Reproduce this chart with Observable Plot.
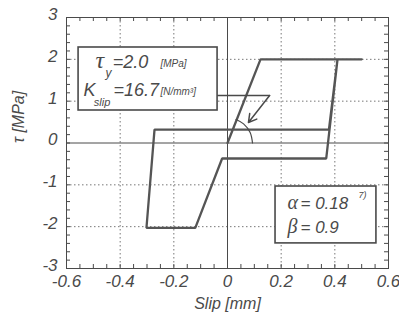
<!DOCTYPE html>
<html>
<head>
<meta charset="utf-8">
<script src="https://cdn.jsdelivr.net/npm/d3@7"></script>
<script src="https://cdn.jsdelivr.net/npm/@observablehq/plot@0.6"></script>
<style>
  html, body { margin: 0; padding: 0; background: #fff; }
  svg { display: block; }
</style>
</head>
<body>
<div id="chart"></div>
<script>
// Hysteresis loop (Slip [mm], tau [MPa])
const slip = [0, 0.123, 0.41, 0.368, -0.02, -0.12, -0.302, -0.272, 0.378, 0.41, 0.50];
const tau  = [0, 2.0, 2.0, -0.37, -0.37, -2.03, -2.03, 0.32, 0.32, 2.0, 2.0];

const xTicks = [-0.6, -0.4, -0.2, 0, 0.2, 0.4, 0.6];
const yTicks = [-3, -2, -1, 0, 1, 2, 3];
const xGrid = [-0.4, -0.2, 0.2, 0.4];
const yGrid = [-2, -1, 1, 2];
const xMinor = [-0.55, -0.5, -0.45, -0.4, -0.35, -0.3, -0.25, -0.2, -0.15, -0.1, -0.05, 0, 0.05, 0.1, 0.15, 0.2, 0.25, 0.3, 0.35, 0.4, 0.45, 0.5, 0.55];
const yMinor = [-2.8, -2.6, -2.4, -2.2, -2, -1.8, -1.6, -1.4, -1.2, -1, -0.8, -0.6, -0.4, -0.2, 0, 0.2, 0.4, 0.6, 0.8, 1, 1.2, 1.4, 1.6, 1.8, 2, 2.2, 2.4, 2.6, 2.8];

const xLabel = "Slip [mm]";
const yLabel = "τ [MPa]";

const data = slip.map((s, i) => ({slip: s, tau: tau[i]}));

const ink = "#4a4a4a";
const sans = "Liberation Sans, Arial, sans-serif";
const serif = "Liberation Serif, Times New Roman, serif";

function label(text, x, y, opts = {}) {
  return Plot.text([text], {
    x: () => x, y: () => y, text: d => d,
    textAnchor: "start", lineAnchor: "bottom",
    fill: ink, fontStyle: "italic", fontFamily: sans, fontSize: 17,
    ...opts
  });
}

const W = 399, H = 315, mL = 66, mR = 11, mT = 17, mB = 47;
const innerW = W - mL - mR, innerH = H - mT - mB;

const chart = Plot.plot({
  width: W, height: H,
  marginLeft: mL, marginRight: mR, marginTop: mT, marginBottom: mB,
  style: {fontFamily: sans, background: "#fff", color: ink},
  x: {domain: [-0.6, 0.6]},
  y: {domain: [-3, 3]},
  marks: [
    Plot.ruleX(xGrid, {stroke: "#777", strokeWidth: 1, strokeDasharray: "1.5,2.5"}),
    Plot.ruleY(yGrid, {stroke: "#777", strokeWidth: 1, strokeDasharray: "1.5,2.5"}),
    Plot.ruleX([0], {stroke: ink, strokeWidth: 1}),
    Plot.ruleY([0], {stroke: ink, strokeWidth: 1}),
    // minor ticks, inside frame
    Plot.tickX(xMinor, {x: d => d, insetTop: innerH - 4, stroke: ink}),
    Plot.tickX(xMinor, {x: d => d, insetBottom: innerH - 4, stroke: ink}),
    Plot.tickY(yMinor, {y: d => d, insetRight: innerW - 4, stroke: ink}),
    Plot.tickY(yMinor, {y: d => d, insetLeft: innerW - 4, stroke: ink}),
    Plot.frame({stroke: ink, strokeWidth: 1}),
    // hysteresis curve
    Plot.line(data, {x: "slip", y: "tau", stroke: "#555", strokeWidth: 2.3, strokeLinejoin: "miter"}),
    // angle arc at origin
    Plot.line([[0.0932, 0], [0.0844, 0.2526], [0.0599, 0.4578], [0.0319, 0.5616]],
      {x: d => d[0], y: d => d[1], curve: "catmull-rom", stroke: ink, strokeWidth: 1.2}),
    // leader + arrow
    Plot.line([[-0.037, 1.136], [0.157, 1.136]], {x: d => d[0], y: d => d[1], stroke: ink, strokeWidth: 1.3}),
    Plot.arrow([0], {x1: () => 0.157, y1: () => 1.136, x2: () => 0.078, y2: () => 0.49,
      stroke: ink, strokeWidth: 1.5, headLength: 9}),
    // boxes
    Plot.rect([0], {x1: () => -0.555, x2: () => -0.037, y1: () => 2.283, y2: () => 0.777,
      fill: "#fff", stroke: ink, strokeWidth: 1.6}),
    Plot.rect([0], {x1: () => 0.179, x2: () => 0.555, y1: () => -1.04, y2: () => -2.40,
      fill: "#fff", stroke: ink, strokeWidth: 1.6}),
    // box 1 text
    label("τ", -0.492, 1.781, {fontFamily: serif, fontSize: 24}),
    label("y", -0.455, 1.566, {fontSize: 12}),
    label("=2.0", -0.428, 1.781, {fontSize: 18}),
    label("[MPa]", -0.250, 1.805, {fontSize: 10}),
    label("K", -0.537, 1.112, {fontSize: 18}),
    label("slip", -0.498, 0.873, {fontSize: 11}),
    label("=16.7", -0.425, 1.112, {fontSize: 18}),
    label("[N/mm³]", -0.250, 1.136, {fontSize: 10}),
    // box 2 text
    label("α", 0.224, -1.566, {fontFamily: serif, fontSize: 20}),
    label("= 0.18", 0.272, -1.566, {fontSize: 17}),
    label("7)", 0.488, -1.303, {fontSize: 9}),
    label("β", 0.224, -2.163, {fontFamily: serif, fontSize: 20}),
    label("= 0.9", 0.272, -2.163, {fontSize: 17}),
    // axes
    Plot.axisX(xTicks, {tickSize: 0, tickPadding: 6, fontSize: 17, fontStyle: "italic",
      fill: ink, tickFormat: d => String(d), label: null}),
    Plot.axisY(yTicks, {tickSize: 0, tickPadding: 9, dy: -3, fontSize: 17, fontStyle: "italic",
      fill: ink, tickFormat: d => String(d), label: null}),
    Plot.text([xLabel], {frameAnchor: "bottom", dy: 40, lineAnchor: "bottom",
      fontSize: 16, fontStyle: "italic", fill: ink}),
    Plot.text([yLabel], {frameAnchor: "left", dx: -48, rotate: -90, lineAnchor: "middle",
      fontSize: 16, fontStyle: "italic", fill: ink})
  ]
});
document.getElementById("chart").appendChild(chart);
</script>
</body>
</html>
